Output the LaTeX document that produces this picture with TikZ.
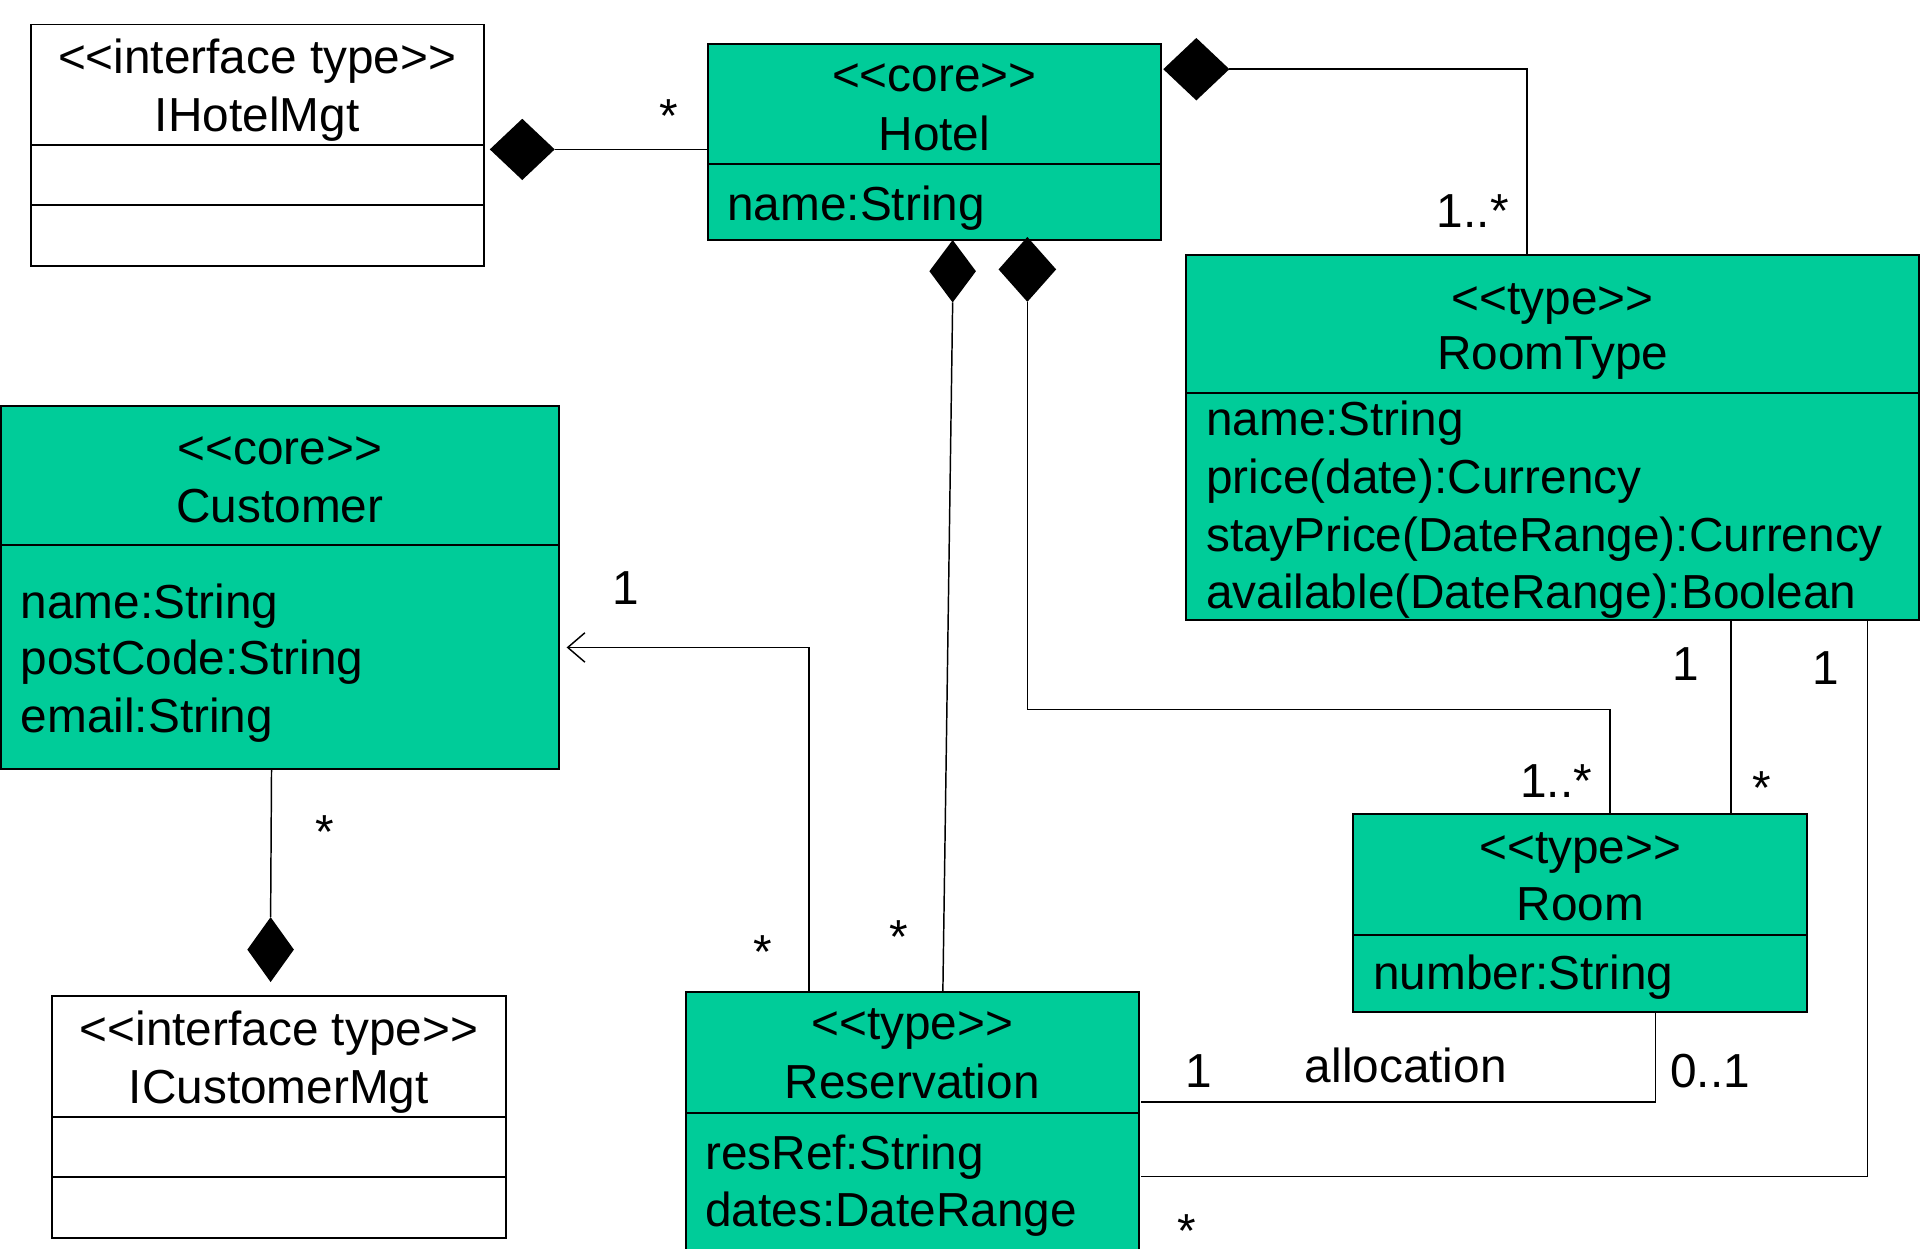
\documentclass[tikz,border=0pt]{standalone}
\usepackage{fontspec}
\setmainfont{Liberation Sans}
\usetikzlibrary{shapes.geometric,arrows.meta}
\definecolor{umlgreen}{HTML}{00CC99}
\newcommand{\stereo}[1]{<{}<#1>{}>}
\begin{document}
\begin{tikzpicture}[x=1pt,y=-1pt,
  box/.style={draw=black,line width=1.5pt,anchor=north west,inner sep=0pt,outer sep=0pt},
  gbox/.style={box,fill=umlgreen},
  wbox/.style={box,fill=white},
  txt/.style={inner sep=0pt,outer sep=0pt,anchor=base,font=\fontsize{39}{47}\selectfont},
  ltxt/.style={txt,anchor=base west},
  rtxt/.style={txt,anchor=base east},
  conn/.style={line width=1.2pt},
  divider/.style={line width=1.5pt},
  dia/.style={shape=diamond,fill=black,draw=none,inner sep=0pt,outer sep=0pt}
]
\useasboundingbox (0,0) rectangle (1568,1020);

% ---------- boxes ----------
\node[wbox,minimum width=370,minimum height=197] (ihm) at (25,20) {};
\draw[divider] ([yshift=-98.5pt]ihm.north west) -- ([yshift=-98.5pt]ihm.north east);
\draw[divider] ([yshift=-147.5pt]ihm.north west) -- ([yshift=-147.5pt]ihm.north east);
\node[txt] (ihmS) at (210,60) {\stereo{interface type}};
\node[txt] (ihmN) at (210,107) {IHotelMgt};

\node[gbox,minimum width=370,minimum height=160] (hotel) at (578,36) {};
\draw[divider] ([yshift=-98pt]hotel.north west) -- ([yshift=-98pt]hotel.north east);
\node[txt] (hotelS) at (763,75) {\stereo{core}};
\node[txt] (hotelN) at (763,123) {Hotel};
\node[ltxt] (hotelA) at (594,180) {name:String};

\node[gbox,minimum width=599,minimum height=298] (roomtype) at (968.5,208) {};
\draw[divider] ([yshift=-113pt]roomtype.north west) -- ([yshift=-113pt]roomtype.north east);
\node[txt] (rtS) at (1268,257) {\stereo{type}};
\node[txt] (rtN) at (1268,302) {RoomType};
\node[ltxt] (rtA1) at (985,356) {name:String};
\node[ltxt] (rtA2) at (985,403) {price(date):Currency};
\node[ltxt] (rtA3) at (985,450) {stayPrice(DateRange):Currency};
\node[ltxt] (rtA4) at (985,497) {available(DateRange):Boolean};

\node[gbox,minimum width=456,minimum height=296.5] (cust) at (0.75,331.5) {};
\draw[divider] ([yshift=-113.5pt]cust.north west) -- ([yshift=-113.5pt]cust.north east);
\node[txt] (custS) at (228.5,379) {\stereo{core}};
\node[txt] (custN) at (228.5,427) {Customer};
\node[ltxt] (custA1) at (17,505) {name:String};
\node[ltxt] (custA2) at (17,551) {postCode:String};
\node[ltxt] (custA3) at (17,598) {email:String};

\node[wbox,minimum width=370.5,minimum height=197.5] (icm) at (42.5,813.5) {};
\draw[divider] ([yshift=-98.5pt]icm.north west) -- ([yshift=-98.5pt]icm.north east);
\draw[divider] ([yshift=-147.5pt]icm.north west) -- ([yshift=-147.5pt]icm.north east);
\node[txt] (icmS) at (227.75,853.5) {\stereo{interface type}};
\node[txt] (icmN) at (227.75,901) {ICustomerMgt};

\node[gbox,minimum width=370,minimum height=230] (res) at (560,810) {};
\draw[divider] ([yshift=-99pt]res.north west) -- ([yshift=-99pt]res.north east);
\node[txt] (resS) at (745,849) {\stereo{type}};
\node[txt] (resN) at (745,897) {Reservation};
\node[ltxt] (resA1) at (576,955) {resRef:String};
\node[ltxt] (resA2) at (576,1002) {dates:DateRange};

\node[gbox,minimum width=371,minimum height=161.5] (room) at (1105,665) {};
\draw[divider] ([yshift=-98.5pt]room.north west) -- ([yshift=-98.5pt]room.north east);
\node[txt] (roomS) at (1290.5,705) {\stereo{type}};
\node[txt] (roomN) at (1290.5,752) {Room};
\node[ltxt] (roomA) at (1121.5,808) {number:String};

% ---------- diamonds ----------
\node[dia,minimum width=53,minimum height=50] (d1) at (426.5,122) {};
\node[dia,minimum width=54,minimum height=51] (d2) at (977,56.5) {};
\node[dia,minimum width=38,minimum height=51] (d3) at (778,221.5) {};
\node[dia,minimum width=47,minimum height=53] (d4) at (839,220) {};
\node[dia,minimum width=38,minimum height=53] (d5) at (221,775.5) {};

% ---------- connectors ----------
\draw[conn] (d1.east) -- (d1.east -| hotel.west);
\draw[conn] (d2.east) -| ([xshift=278.5pt]roomtype.north west);
\draw[conn] (d3.south) -- ([xshift=210pt]res.north west);
\draw[conn] (d4.south) -- ++(0,333) -| ([xshift=210pt]room.north west);
\draw[conn,-{Straight Barb[length=14pt,width=24pt]}] ([xshift=100.5pt]res.north west) |- ([xshift=6pt,yshift=-49pt]cust.east);
\draw[conn] ([xshift=221pt]cust.south west) -- (d5.north);
\draw[conn] ([xshift=445pt]roomtype.south west) -- ([xshift=308.5pt]room.north west);
\draw[conn] ([xshift=556.5pt]roomtype.south west) |- ([xshift=2pt,yshift=-36pt]res.east);
\draw[conn] ([xshift=2pt,yshift=25pt]res.east) -| ([xshift=247pt]room.south west);

% ---------- labels ----------
\node[txt] (l1) at (546,108) {*};
\node[rtxt] (l2) at (1232,186) {1..*};
\node[txt] (l3) at (734,779) {*};
\node[txt] (l4) at (623,791) {*};
\node[txt] (l5) at (511,494) {1};
\node[txt] (l6) at (265,693) {*};
\node[rtxt] (l7) at (1300,651) {1..*};
\node[txt] (l8) at (1377,556) {1};
\node[txt] (l9) at (1439,657) {*};
\node[txt] (l10) at (1491,559) {1};
\node[txt] (l11) at (979,888) {1};
\node[txt] (l12) at (1148,884) {allocation};
\node[ltxt] (l13) at (1364,888) {0..1};
\node[txt] (l14) at (969,1019) {*};
\end{tikzpicture}
\end{document}
